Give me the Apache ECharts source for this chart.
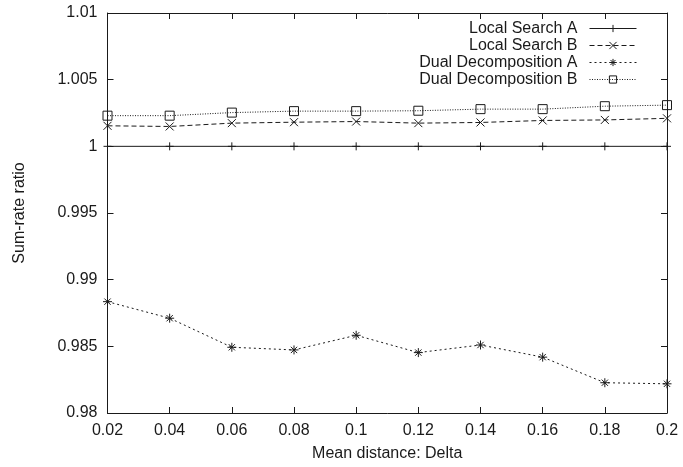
<!DOCTYPE html>
<html>
<head>
<meta charset="utf-8">
<script src="https://cdn.jsdelivr.net/npm/echarts@6/dist/echarts.min.js"></script>
<style>html,body{margin:0;padding:0;background:#fff;}#c{width:683px;height:467px;}</style>
</head>
<body>
<div id="c"></div>
<script>
const deltas = [0.02, 0.04, 0.06, 0.08, 0.10, 0.12, 0.14, 0.16, 0.18, 0.20];
const localSearchA = [1.0, 1.0, 1.0, 1.0, 1.0, 1.0, 1.0, 1.0, 1.0, 1.0];
const localSearchB = [1.00154, 1.00149, 1.00174, 1.00181, 1.00186, 1.00174, 1.00179, 1.00194, 1.00198, 1.00210];
const dualDecompA = [0.98835, 0.98711, 0.98493, 0.98473, 0.98583, 0.98453, 0.98510, 0.98419, 0.98227, 0.98219];
const dualDecompB = [1.00230, 1.00230, 1.00253, 1.00264, 1.00264, 1.00267, 1.00279, 1.00279, 1.00301, 1.00309];
const seriesNames = ['Local Search A', 'Local Search B', 'Dual Decomposition A', 'Dual Decomposition B'];

const FONT = 'Liberation Sans';
const INK = '#1a1a1a';
const pair = arr => deltas.map((d, i) => [d, arr[i]]);

const SYM_PLUS = 'path://M0,5L10,5M5,0L5,10';
const SYM_X = 'path://M0,0L10,10M0,10L10,0';
const SYM_STAR = 'path://M0,5L10,5M5,0L5,10M1.5,1.5L8.5,8.5M1.5,8.5L8.5,1.5';
const SYM_SQ = 'path://M0,0L10,0L10,10L0,10Z';

function mk(name, data, sym, size, dash) {
  return {
    name: name, type: 'line', data: pair(data),
    symbol: sym, symbolSize: size,
    itemStyle: { color: 'rgba(0,0,0,0)', borderColor: INK, borderWidth: 1 },
    lineStyle: { color: INK, width: 1, type: dash },
    emphasis: { disabled: true }, animation: false, z: 3
  };
}

const chart = echarts.init(document.getElementById('c'), null, { renderer: 'canvas' });
const axisCommon = {
  axisLine: { show: true, lineStyle: { color: INK, width: 1 } },
  axisTick: { show: true, inside: true, length: 6, lineStyle: { color: INK } },
  splitLine: { show: false }
};
chart.setOption({
  animation: false,
  backgroundColor: '#fff',
  textStyle: { fontFamily: FONT },
  grid: { left: 107.5, right: 16, top: 13, bottom: 48 },
  legend: {
    orient: 'vertical', right: 41, top: 15, align: 'right',
    itemWidth: 47, itemHeight: 9, itemGap: 0,
    data: seriesNames,
    itemStyle: { color: 'rgba(0,0,0,0)', borderColor: INK, borderWidth: 1 },
    lineStyle: { width: 1, color: INK },
    textStyle: { fontFamily: FONT, fontSize: 16, color: INK, lineHeight: 17, padding: [0, 7, 0, 0] }
  },
  xAxis: [
    Object.assign({
      type: 'value', min: 0.02, max: 0.2, interval: 0.02, position: 'bottom',
      name: 'Mean distance: Delta', nameLocation: 'middle', nameGap: 33,
      nameTextStyle: { fontFamily: FONT, fontSize: 16, color: INK },
      axisLabel: { fontFamily: FONT, fontSize: 16, color: INK, margin: 10 }
    }, axisCommon),
    Object.assign({
      type: 'value', min: 0.02, max: 0.2, interval: 0.02, position: 'top',
      axisLabel: { show: false }
    }, axisCommon)
  ],
  yAxis: [
    Object.assign({
      type: 'value', min: 0.98, max: 1.01, interval: 0.005, position: 'left',
      name: 'Sum-rate ratio', nameLocation: 'middle', nameGap: 80, nameRotate: 90,
      nameTextStyle: { fontFamily: FONT, fontSize: 16, color: INK },
      axisLabel: { fontFamily: FONT, fontSize: 16, color: INK, margin: 10 }
    }, axisCommon),
    Object.assign({
      type: 'value', min: 0.98, max: 1.01, interval: 0.005, position: 'right',
      axisLabel: { show: false }
    }, axisCommon)
  ],
  series: [
    mk(seriesNames[0], localSearchA, SYM_PLUS, 8, 'solid'),
    mk(seriesNames[1], localSearchB, SYM_X, 8, [5, 3]),
    mk(seriesNames[2], dualDecompA, SYM_STAR, 9, [2, 3]),
    mk(seriesNames[3], dualDecompB, SYM_SQ, 9, [1, 1.5])
  ]
});
</script>
</body>
</html>
